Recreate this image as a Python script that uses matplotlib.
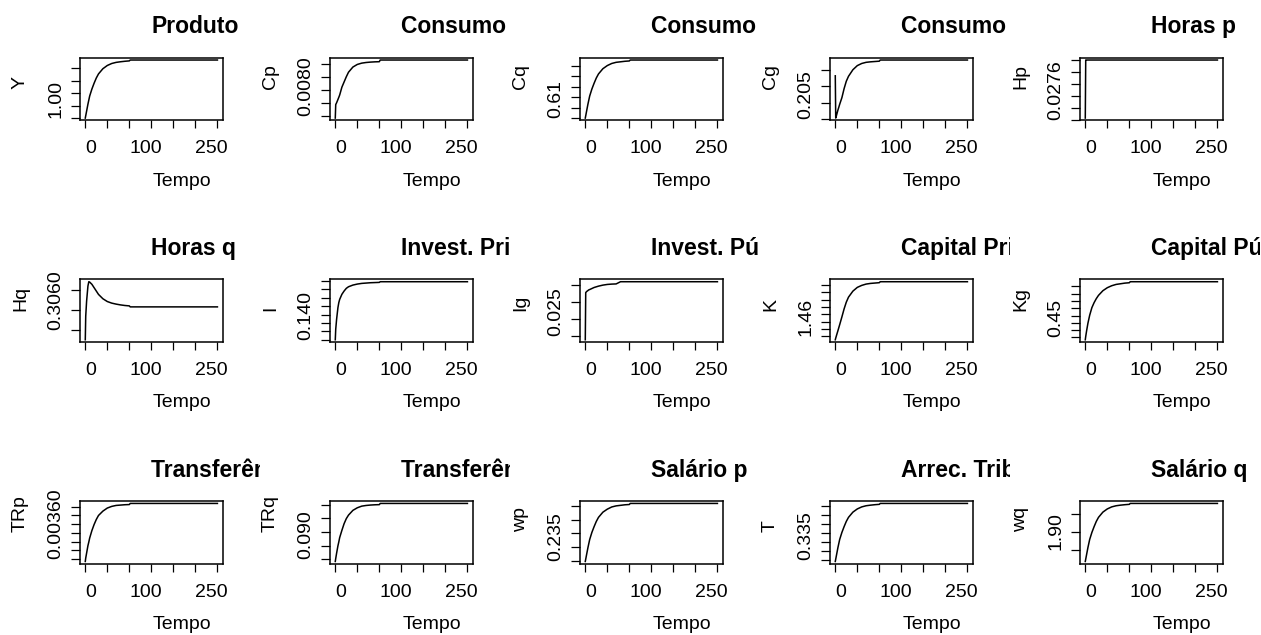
import matplotlib
matplotlib.use("Agg")
import matplotlib.pyplot as plt
from matplotlib.transforms import Bbox, TransformedBbox

W, H = 1261, 635
plt.rcParams['font.family'] = ['Liberation Sans', 'DejaVu Sans']

# ---------------- data ----------------
time = [0, 1, 3, 6, 8, 10, 15, 20, 25, 30, 40, 50, 60, 70, 80, 90, 100, 102, 300]

Y = [1.0000, 1.0019, 1.0056, 1.0112, 1.0145, 1.0178, 1.0234, 1.0281, 1.0323, 1.0356,
     1.0398, 1.0424, 1.0440, 1.0449, 1.0454, 1.0458, 1.0461, 1.0468, 1.0468]
Cp = [0.007982, 0.008086, 0.0081, 0.008125, 0.008142, 0.00816, 0.00822, 0.00826, 0.0083,
      0.008335, 0.008375, 0.008395, 0.008405, 0.00841, 0.008413, 0.008415, 0.008416,
      0.008429, 0.008429]
Cq = [0.6100, 0.6122, 0.6167, 0.6233, 0.6272, 0.6311, 0.6378, 0.6433, 0.6483, 0.6522,
      0.6572, 0.6602, 0.6622, 0.6633, 0.6638, 0.6643, 0.6646, 0.6655, 0.6655]
Cg = [0.21815, 0.2053, 0.20625, 0.20775, 0.2086, 0.2095, 0.2115, 0.21425, 0.2165, 0.218,
      0.22, 0.22125, 0.2219, 0.22225, 0.2224, 0.2225, 0.2226, 0.22295, 0.22295]
Hp = [0.027614, 0.0281, 0.0281, 0.0281, 0.0281, 0.0281, 0.0281, 0.0281, 0.0281, 0.0281,
      0.0281, 0.0281, 0.0281, 0.0281, 0.0281, 0.0281, 0.0281, 0.0281, 0.0281]
Hq = [0.305745, 0.30634, 0.30672, 0.3071, 0.30721, 0.3072, 0.307145, 0.30706, 0.306975,
      0.30689, 0.30678, 0.30671, 0.30667, 0.306645, 0.306625, 0.30661, 0.3066, 0.306575,
      0.306575]
I = [0.14, 0.1463, 0.15225, 0.15915, 0.16215, 0.1641, 0.1671, 0.16905, 0.17065, 0.1716,
     0.1726, 0.1732, 0.1736, 0.1738, 0.174, 0.1741, 0.1742, 0.1746, 0.1746]
Ig = [0.0238, 0.0377, 0.038, 0.0383, 0.0385, 0.0386, 0.0389, 0.0392, 0.0394, 0.0396,
      0.0399, 0.0401, 0.0402, 0.04025, 0.0409, 0.0409, 0.0409, 0.0409, 0.0409]
K = [1.4554, 1.4577, 1.4618, 1.4678, 1.4719, 1.476, 1.4865, 1.4974, 1.5066, 1.5134,
     1.5216, 1.5267, 1.5294, 1.5312, 1.5321, 1.5326, 1.5331, 1.5344, 1.5344]
Kg = [0.4468, 0.4514, 0.4591, 0.4695, 0.475, 0.4805, 0.4909, 0.4977, 0.5032, 0.5077,
      0.5141, 0.5182, 0.5209, 0.5227, 0.5236, 0.5245, 0.525, 0.5264, 0.5264]
TRp = [0.0035865, 0.003606, 0.0036345, 0.003677, 0.003698, 0.003721, 0.0037635, 0.003798,
       0.003827, 0.00385, 0.003875, 0.0038925, 0.003902, 0.0039075, 0.0039095, 0.0039115,
       0.0039125, 0.003919, 0.003919]
TRq = [0.08915, 0.09025, 0.0922, 0.0949, 0.09635, 0.09795, 0.1006, 0.10305, 0.1049, 0.1062,
       0.10795, 0.1089, 0.1095, 0.10975, 0.1099, 0.11, 0.11005, 0.1105, 0.1105]
wp = [0.23475, 0.2356, 0.2373, 0.2398, 0.2413, 0.2428, 0.2454, 0.2475, 0.2494, 0.2509,
      0.2528, 0.2539, 0.2547, 0.2551, 0.2553, 0.2555, 0.2556, 0.2560, 0.2560]
T = [0.33445, 0.33573, 0.33829, 0.34213, 0.34437, 0.34661, 0.35045, 0.35365, 0.35653,
     0.35877, 0.36165, 0.36341, 0.36453, 0.36517, 0.36549, 0.36575, 0.36594, 0.36645, 0.36645]
wq = [1.8665, 1.8731, 1.8863, 1.906, 1.9175, 1.929, 1.9488, 1.9652, 1.98, 1.9915, 2.0064,
      2.0154, 2.0212, 2.0244, 2.0261, 2.0274, 2.0284, 2.031, 2.031]

titles = ["Produto", "Consumo p", "Consumo q", "Consumo g", "Horas p",
          "Horas q", "Invest. Privado", "Invest. Público", "Capital Privado", "Capital Público",
          "Transferências p", "Transferências q", "Salário p", "Arrec. Tributária", "Salário q"]
ylabels = ["Y", "Cp", "Cq", "Cg", "Hp", "Hq", "I", "Ig", "K", "Kg",
           "TRp", "TRq", "wp", "T", "wq"]
series = [Y, Cp, Cq, Cg, Hp, Hq, I, Ig, K, Kg, TRp, TRq, wp, T, wq]

yticks = [
    [1.00, 1.01, 1.02, 1.03, 1.04],
    [0.0080, 0.0081, 0.0082, 0.0083, 0.0084],
    [0.61, 0.62, 0.63, 0.64, 0.65, 0.66],
    [0.205, 0.210, 0.215, 0.220],
    [0.0276, 0.0277, 0.0278, 0.0279, 0.0280, 0.0281],
    [0.3060, 0.3065, 0.3070],
    [0.140, 0.145, 0.150, 0.155, 0.160, 0.165, 0.170, 0.175],
    [0.025, 0.030, 0.035, 0.040],
    [1.46, 1.47, 1.48, 1.49, 1.50, 1.51, 1.52, 1.53],
    [0.45, 0.46, 0.47, 0.48, 0.49, 0.50, 0.51, 0.52],
    [0.00360, 0.00365, 0.00370, 0.00375, 0.00380, 0.00385, 0.00390],
    [0.090, 0.095, 0.100, 0.105, 0.110],
    [0.235, 0.240, 0.245, 0.250, 0.255],
    [0.335, 0.340, 0.345, 0.350, 0.355, 0.360, 0.365],
    [1.90, 1.95, 2.00],
]
ytick_first = ["1.00", "0.0080", "0.61", "0.205", "0.0276", "0.3060", "0.140", "0.025",
               "1.46", "0.45", "0.00360", "0.090", "0.235", "0.335", "1.90"]

xticks = [0, 50, 100, 150, 200, 250, 300]
xtick_labels = ["0", "", "100", "", "", "250", ""]

# ---------------- figure ----------------
fig = plt.figure(figsize=(W / 100, H / 100), dpi=100)
box_w, box_h = 142.7, 62.7

for i in range(15):
    r, c = divmod(i, 5)
    left = 80 + 250 * c
    top = 57.7 + 221.7 * r
    ax = fig.add_axes([left / W, 1 - (top + box_h) / H, box_w / W, box_h / H])
    ax.plot(time, series[i], color='black', lw=1.1)
    ax.margins(x=0.04, y=0.04)

    ax.set_xticks(xticks, labels=xtick_labels)
    yt = yticks[i]
    ax.set_yticks(yt, labels=[ytick_first[i]] + [""] * (len(yt) - 1))
    ax.tick_params(axis='x', direction='out', length=5.5, width=0.9, pad=8.9,
                   labelsize=14, colors='black')
    ax.tick_params(axis='y', direction='out', length=6.5, width=0.9, pad=5,
                   labelsize=14, colors='black')
    for lab in ax.get_xticklabels():
        lab.set_ha('left')
    for lab in ax.get_yticklabels():
        lab.set_rotation(90)
        lab.set_va('bottom')
        lab.set_ha('right')
    for sp in ax.spines.values():
        sp.set_linewidth(1.1)
        sp.set_color('black')

    ax.annotate("Tempo", xy=(0.5, 0), xycoords='axes fraction', xytext=(1.5, -65.3),
                textcoords='offset pixels', ha='left', va='baseline', fontsize=14)
    ax.annotate(ylabels[i], xy=(0, 0.5), xycoords='axes fraction', xytext=(-55, 0),
                textcoords='offset pixels', rotation=90, rotation_mode='anchor',
                ha='left', va='baseline', fontsize=14)
    t = ax.annotate(titles[i], xy=(0.5, 1), xycoords='axes fraction', xytext=(0, 24.4),
                    textcoords='offset pixels', ha='left', va='baseline',
                    fontsize=16.5, fontweight='bold', annotation_clip=False)
    clip_right = min(260 + 250 * c, W)
    t.set_clip_box(TransformedBbox(Bbox.from_extents(0, 0, clip_right / W, 1),
                                   fig.transFigure))
    t.set_clip_on(True)

fig.savefig("out.png", dpi=100)
